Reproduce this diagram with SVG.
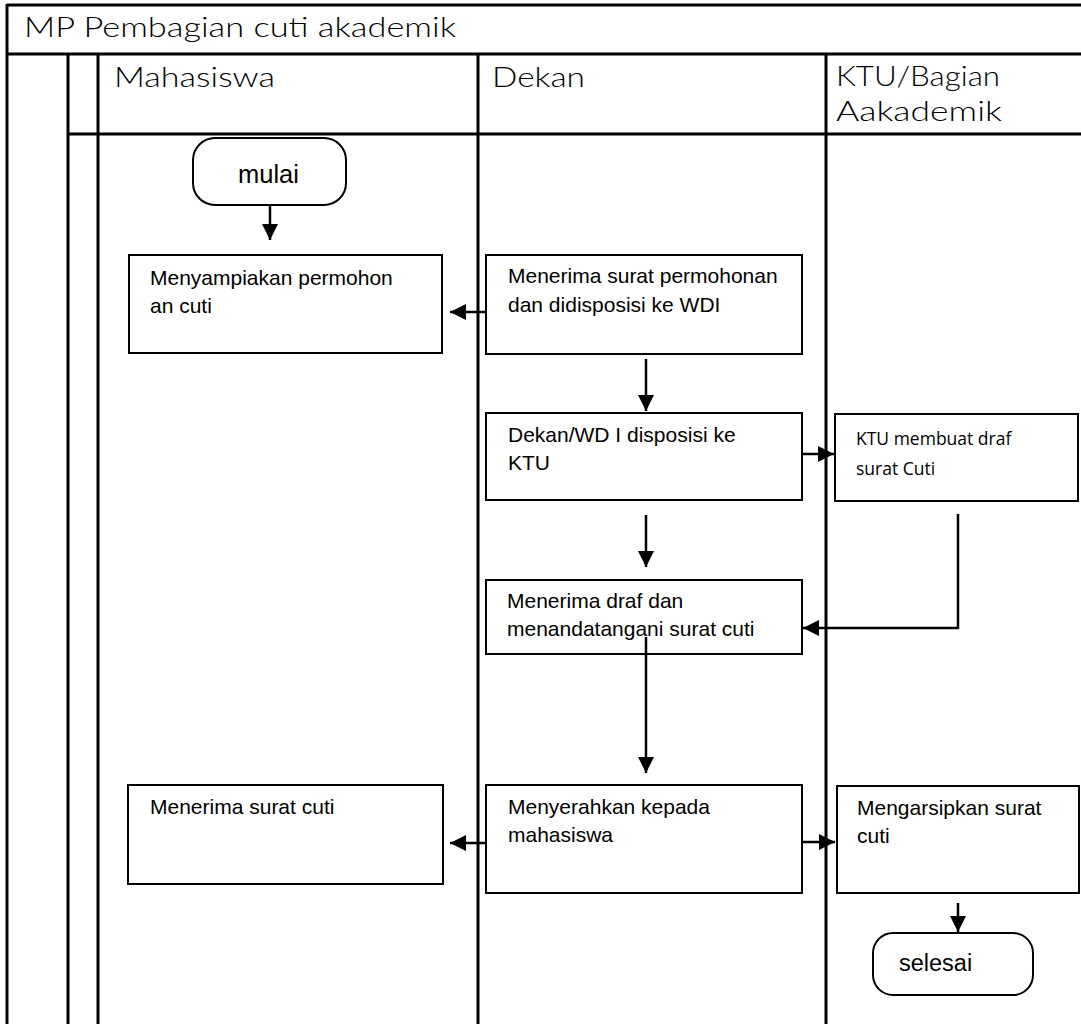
<svg xmlns="http://www.w3.org/2000/svg" width="1081" height="1024" viewBox="0 0 1081 1024">
  <style>
    .lane { stroke: #000; stroke-width: 3; fill: none; }
    .box { fill: #fff; stroke: #000; stroke-width: 2; }
    .term { fill: #fff; stroke: #000; stroke-width: 2; }
    .head { font-family: Lato, "Noto Sans", "DejaVu Sans", sans-serif; font-weight: 300; font-size: 27px; fill: #000; }
    .lbl { font-family: "Liberation Sans", Arial, sans-serif; font-size: 21px; fill: #000; }
    .lbl2 { font-family: "Open Sans", "Noto Sans", sans-serif; font-size: 17.5px; fill: #000; }
    .conn { stroke: #000; stroke-width: 2.5; fill: none; }
  </style>
  <defs>
    <marker id="arrow" markerUnits="userSpaceOnUse" markerWidth="16" markerHeight="16" refX="16" refY="8" orient="auto">
      <path d="M0,0 L16,8 L0,16 z" fill="#000"/>
    </marker>
  </defs>
  <rect width="1081" height="1024" fill="#fff"/>

  <!-- swimlane grid -->
  <g id="lanes">
    <line class="lane" x1="7" y1="5" x2="1081" y2="5"/>
    <line class="lane" x1="7" y1="4" x2="7" y2="1024"/>
    <line class="lane" x1="7" y1="54" x2="1081" y2="54"/>
    <line class="lane" x1="68" y1="134" x2="1081" y2="134"/>
    <line class="lane" x1="68" y1="54" x2="68" y2="1024"/>
    <line class="lane" x1="98" y1="54" x2="98" y2="1024"/>
    <line class="lane" x1="478" y1="54" x2="478" y2="1024"/>
    <line class="lane" x1="826" y1="54" x2="826" y2="1024"/>
    <text class="head" x="24" y="37" textLength="432" lengthAdjust="spacingAndGlyphs">MP Pembagian cuti akademik</text>
    <text class="head" x="114" y="87" textLength="161" lengthAdjust="spacingAndGlyphs">Mahasiswa</text>
    <text class="head" x="492" y="87" textLength="93" lengthAdjust="spacingAndGlyphs">Dekan</text>
    <text class="head" x="836" y="86" textLength="164" lengthAdjust="spacingAndGlyphs">KTU/Bagian</text>
    <text class="head" x="836" y="121" textLength="166" lengthAdjust="spacingAndGlyphs">Aakademik</text>
  </g>

  <!-- connectors -->
  <g id="connectors">
    <path class="conn" d="M270,205 V240" marker-end="url(#arrow)"/>
    <path class="conn" d="M486,312 H450" marker-end="url(#arrow)"/>
    <path class="conn" d="M646,359 V411" marker-end="url(#arrow)"/>
    <path class="conn" d="M802,454 H834" marker-end="url(#arrow)"/>
    <path class="conn" d="M646,515 V567" marker-end="url(#arrow)"/>
    <path class="conn" d="M958,514 V628 H803" marker-end="url(#arrow)"/>
    <path class="conn" d="M486,843 H450" marker-end="url(#arrow)"/>
    <path class="conn" d="M802,842 H835" marker-end="url(#arrow)"/>
    <path class="conn" d="M958,903 V932" marker-end="url(#arrow)"/>
  </g>

  <g id="mulai">
    <rect class="term" x="193" y="138" width="153" height="67" rx="22"/>
    <text class="lbl" x="238" y="183" style="font-size:25.5px">mulai</text>
  </g>

  <g id="menyampaikan">
    <rect class="box" x="129" y="255" width="313" height="98"/>
    <text class="lbl" x="150" y="285">Menyampiakan permohon</text>
    <text class="lbl" x="150" y="313">an cuti</text>
  </g>

  <g id="menerima-surat">
    <rect class="box" x="486" y="255" width="316" height="99"/>
    <text class="lbl" x="508" y="283">Menerima surat permohonan</text>
    <text class="lbl" x="508" y="312">dan didisposisi ke WDI</text>
  </g>

  <g id="disposisi">
    <rect class="box" x="486" y="413" width="316" height="87"/>
    <text class="lbl" x="508" y="442">Dekan/WD I disposisi ke</text>
    <text class="lbl" x="508" y="470">KTU</text>
  </g>

  <g id="ktu-draf">
    <rect class="box" x="835" y="414" width="243" height="87"/>
    <text class="lbl2" x="856" y="445">KTU membuat draf</text>
    <text class="lbl2" x="856" y="475">surat Cuti</text>
  </g>

  <g id="tandatangan">
    <rect class="box" x="486" y="580" width="316" height="74"/>
    <text class="lbl" x="507" y="608">Menerima draf dan</text>
    <text class="lbl" x="507" y="636">menandatangani surat cuti</text>
  </g>

  <!-- downward flow drawn over the signing box -->
  <path class="conn" d="M646,637 V773" marker-end="url(#arrow)"/>

  <g id="menyerahkan">
    <rect class="box" x="486" y="785" width="316" height="108"/>
    <text class="lbl" x="508" y="814">Menyerahkan kepada</text>
    <text class="lbl" x="508" y="842">mahasiswa</text>
  </g>

  <g id="menerima-cuti">
    <rect class="box" x="128" y="785" width="315" height="99"/>
    <text class="lbl" x="150" y="814">Menerima surat cuti</text>
  </g>

  <g id="mengarsipkan">
    <rect class="box" x="837" y="786" width="242" height="107"/>
    <text class="lbl" x="857" y="815">Mengarsipkan surat</text>
    <text class="lbl" x="857" y="843">cuti</text>
  </g>

  <g id="selesai">
    <rect class="term" x="873" y="933" width="160" height="62" rx="20"/>
    <text class="lbl" x="899" y="971" style="font-size:23.5px">selesai</text>
  </g>
</svg>
